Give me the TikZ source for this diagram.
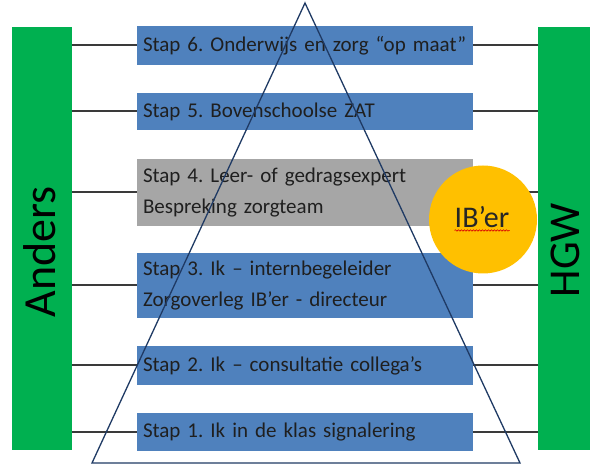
\documentclass[tikz,border=0pt]{standalone}
\usepackage{fontspec}
\setmainfont{Carlito}
\usepackage{xcolor}
\usepackage{tikz}
\usetikzlibrary{shapes,arrows,decorations.pathmorphing}
\frenchspacing

\definecolor{stapblauw}{HTML}{4F81BD}
\definecolor{stapgrijs}{HTML}{A6A6A6}
\definecolor{balkgroen}{HTML}{00B050}
\definecolor{ibgeel}{HTML}{FFC000}
\definecolor{lijngrijs}{HTML}{3A3A3A}
\definecolor{driehoekblauw}{HTML}{1F3A64}

\begin{document}
\begin{tikzpicture}[x=1pt, y=-1pt]
\tikzstyle{stapbox}=[fill=stapblauw, text=black!88, minimum width=336, text width=324, inner sep=6, align=left, font=\fontsize{21}{31}\selectfont]
\tikzstyle{groenebalk}=[fill=balkgroen, inner sep=0]
\tikzstyle{balktekst}=[rotate=90, font=\fontsize{46}{52}\selectfont, text=black]
\tikzstyle{verbinding}=[draw=lijngrijs, line width=2]
\tikzstyle{driehoek}=[draw=driehoekblauw, line width=1.3]
\useasboundingbox (0,0) rectangle (590,465);
% groene balken links en rechts
\node[groenebalk, minimum width=60, minimum height=423] (anders) at (42,238.5) {};
\node[groenebalk, minimum width=52, minimum height=423] (hgw) at (564,238.5) {};
\node[balktekst] (anderstekst) at (40,252) {Anders};
\node[balktekst, font=\fontsize{44}{50}\selectfont] (hgwtekst) at (565,250) {HGW};
% de zes stappen
\node[stapbox, minimum height=39] (s6) at (305,45.5) {Stap 6. Onderwijs en zorg “op maat”};
\node[stapbox, minimum height=37] (s5) at (305,111.5) {Stap 5. Bovenschoolse ZAT};
\node[stapbox, minimum height=67, fill=stapgrijs] (s4) at (305,192.5) {Stap 4. Leer- of gedragsexpert\\Bespreking zorgteam};
\node[stapbox, minimum height=65] (s3) at (305,285.5) {Stap 3. Ik – internbegeleider\\Zorgoverleg IB’er - directeur};
\node[stapbox, minimum height=39] (s2) at (305,365.5) {Stap 2. Ik – consultatie collega’s};
\node[stapbox, minimum height=38] (s1) at (305,432) {Stap 1. Ik in de klas signalering};
% lijnen naar de balken
\path[verbinding] (anders.east |- s6.west) -- (s6.west);
\path[verbinding] (s6.east) -- (hgw.west |- s6.east);
\path[verbinding] (anders.east |- s5.west) -- (s5.west);
\path[verbinding] (s5.east) -- (hgw.west |- s5.east);
\path[verbinding] (anders.east |- s4.west) -- (s4.west);
\path[verbinding] (s4.east) -- (hgw.west |- s4.east);
\path[verbinding] (anders.east |- s3.west) -- (s3.west);
\path[verbinding] (s3.east) -- (hgw.west |- s3.east);
\path[verbinding] (anders.east |- s2.west) -- (s2.west);
\path[verbinding] (s2.east) -- (hgw.west |- s2.east);
\path[verbinding] (anders.east |- s1.west) -- (s1.west);
\path[verbinding] (s1.east) -- (hgw.west |- s1.east);
% piramide
\coordinate (top) at (305,3);
\coordinate (linksonder) at (92,463);
\coordinate (rechtsonder) at (520,463);
\path[driehoek] (top) -- (linksonder) -- (rechtsonder) -- cycle;
% IB'er cirkel
\node[circle, fill=ibgeel, minimum size=108, inner sep=0] (ib) at (483,219.5) {};
\node[font=\fontsize{30}{36}\selectfont, text=black!85, inner sep=0] (ibtekst) at (482,217) {IB’er};
\draw[red!85!black, line width=0.6, decorate, decoration={snake, amplitude=0.7, segment length=3}] ([yshift=-3]ibtekst.base west) -- ([yshift=-3]ibtekst.base east);
\end{tikzpicture}
\end{document}
